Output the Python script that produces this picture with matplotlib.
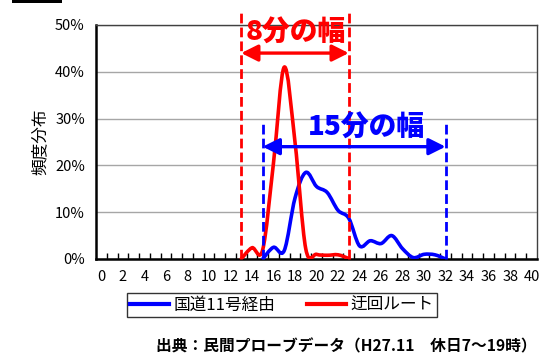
import numpy as np
import matplotlib
matplotlib.use("Agg")
import matplotlib.pyplot as plt
from matplotlib.path import Path
from matplotlib.patches import PathPatch, FancyArrowPatch, Rectangle
from matplotlib.lines import Line2D

plt.rcParams['font.family'] = ['Noto Sans CJK JP', 'DejaVu Sans']

# Travel-time categories (minutes)
categories = list(range(0, 41))
tick_labels = [str(c) if c % 2 == 0 else "" for c in categories]

# National Route 11 (minutes 15..32), share in %
route11_x = [15, 16, 17, 18, 19, 20, 21, 22, 23, 24, 25, 26, 27, 28, 29, 30, 31, 32]
route11_y = [0.0, 2.5, 1.8, 13.0, 18.5, 15.5, 14.2, 10.4, 8.7, 2.8, 3.9, 3.3, 5.0, 2.2, 0.3, 1.0, 0.9, 0.0]

# Detour route (minutes 13..23), share in %
detour_x = [13, 14, 15, 16, 17, 18, 19, 20, 21, 22, 23]
detour_y = [0.0, 2.4, 2.0, 20.5, 41.0, 25.0, 2.2, 1.0, 0.8, 0.9, 0.1]

series_names = ["国道11号経由", "迂回ルート"]
series_colors = ["#0000ff", "#ff0000"]

# Spread markers: (start, end, label)
detour_span = (13, 23, "8分の幅")
route11_span = (15, 32, "15分の幅")

source_note = "出典：民間プローブデータ（H27.11　休日7～19時）"


def smooth_path(xs, ys):
    """Cubic Bezier path through the points (Catmull-Rom style tangents)."""
    pts = np.column_stack([xs, ys]).astype(float)
    n = len(pts)
    verts = [pts[0]]
    codes = [Path.MOVETO]
    for i in range(n - 1):
        p0 = pts[i - 1] if i > 0 else pts[i]
        p1 = pts[i]
        p2 = pts[i + 1]
        p3 = pts[i + 2] if i + 2 < n else pts[i + 1]
        c1 = p1 + (p2 - p0) / 6.0
        c2 = p2 - (p3 - p1) / 6.0
        verts += [c1, c2, p2]
        codes += [Path.CURVE4] * 3
    return Path(np.array(verts), codes)


fig = plt.figure(figsize=(5.5, 3.57), dpi=100)
ax = fig.add_axes([96 / 550, 1 - 259 / 357, (537 - 96) / 550, (259 - 25) / 357])

ax.set_xlim(-0.5, 40.5)
ax.set_ylim(0, 50)

# gridlines
ax.set_yticks([0, 10, 20, 30, 40, 50])
ax.set_yticklabels([f"{v}%" for v in [0, 10, 20, 30, 40, 50]])
ax.yaxis.grid(True, color="#a6a6a6", linewidth=1.0)
ax.set_axisbelow(True)
ax.tick_params(axis="y", length=0, labelsize=10.5, pad=8)

ax.set_xticks(categories)
ax.set_xticklabels(tick_labels)
ax.set_xticks(np.arange(0.5, 40, 1.0), minor=True)
ax.tick_params(axis="x", which="major", length=0, labelsize=10.5, pad=8)
ax.tick_params(axis="x", which="minor", direction="in", length=4, width=1, color="black")

for side in ["left", "bottom"]:
    ax.spines[side].set_linewidth(1.8)
    ax.spines[side].set_color("black")
for side in ["top", "right"]:
    ax.spines[side].set_linewidth(1.0)
    ax.spines[side].set_color("#404040")

ax.set_ylabel("頻度分布", fontsize=12, labelpad=5)

# data lines
for xs, ys, col in [(route11_x, route11_y, series_colors[0]),
                    (detour_x, detour_y, series_colors[1])]:
    ax.add_patch(PathPatch(smooth_path(xs, ys), facecolor="none", edgecolor=col,
                           linewidth=2.6, capstyle="round", joinstyle="round", zorder=4))

# spread guides
def spread(span, color, top, arrow_y, text_x, text_y):
    x0, x1, label = span
    for xv in (x0, x1):
        ax.plot([xv, xv], [0, top], color=color, linewidth=2.0, linestyle=(0, (3.5, 1.5)),
                clip_on=False, zorder=5)
    arr = FancyArrowPatch((x0, arrow_y), (x1, arrow_y), arrowstyle="<|-|>,head_length=1.0,head_width=0.5",
                          mutation_scale=10, color=color, linewidth=2.4, shrinkA=0, shrinkB=0,
                          clip_on=False, zorder=6)
    ax.add_patch(arr)
    ax.text(text_x, text_y, label, color=color, fontsize=20, fontweight="heavy",
            ha="center", va="center", clip_on=False, zorder=6)

spread(detour_span, series_colors[1], 53.2, 44.0, 18.1, 48.4)
spread(route11_span, series_colors[0], 29.2, 24.0, 24.6, 28.2)

# legend
handles = [Line2D([], [], color=c, linewidth=3) for c in series_colors]
leg = fig.legend(handles, series_names, loc="center", bbox_to_anchor=(282 / 550, 1 - 305 / 357),
                 ncol=2, fontsize=12, frameon=True, fancybox=False, edgecolor="black",
                 handlelength=2.3, handletextpad=0.3, columnspacing=1.9,
                 borderpad=0.2, borderaxespad=0)
leg.get_frame().set_linewidth(1.0)

fig.text(537 / 550, 1 - 346 / 357, source_note, fontsize=11.3, fontweight="bold",
         ha="right", va="center")

fig.patches.append(Rectangle((12 / 550, 1 - 3 / 357), 50 / 550, 3 / 357,
                             transform=fig.transFigure, facecolor="black", edgecolor="none"))

fig.savefig("out.png", dpi=100)
